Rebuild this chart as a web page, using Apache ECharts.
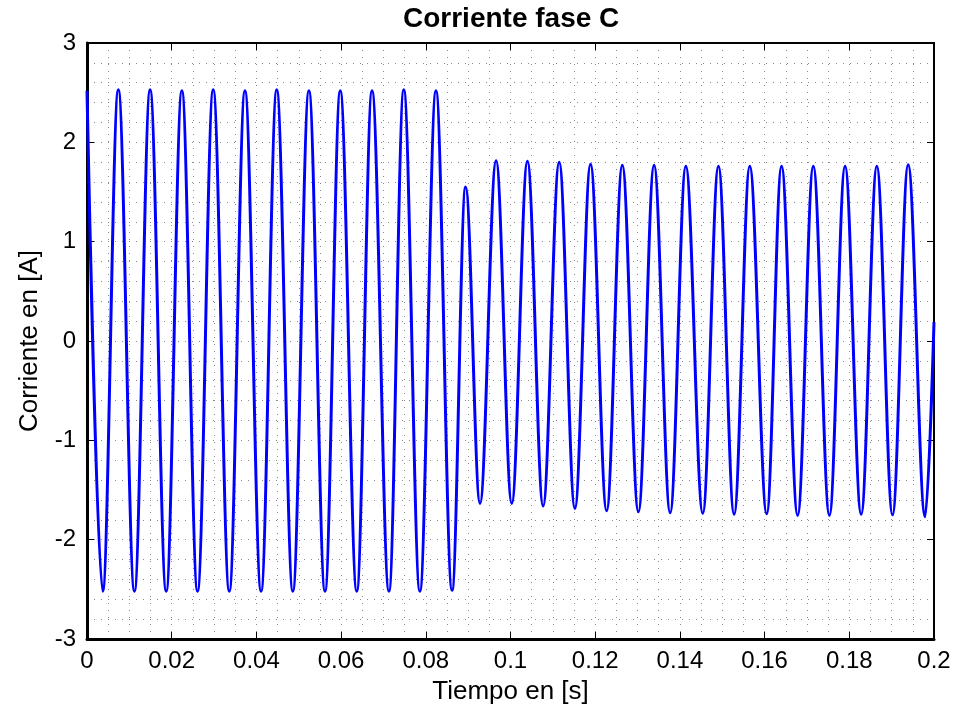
<!DOCTYPE html>
<html>
<head>
<meta charset="utf-8">
<script src="https://cdn.jsdelivr.net/npm/echarts@6/dist/echarts.min.js"></script>
<style>html,body{margin:0;padding:0;background:#fff}#c{width:958px;height:714px}</style>
</head>
<body>
<div id="c"></div>
<script>
// Peaks and troughs of the current waveform (time in s, current in A)
const extremaTime = [
  0.0000, 0.0037, 0.0074, 0.0112, 0.0149, 0.0187, 0.0224, 0.0261, 0.0298, 0.0336,
  0.0373, 0.0411, 0.0448, 0.0486, 0.0524, 0.0562, 0.0598, 0.0637, 0.0673, 0.0713,
  0.0748, 0.0786, 0.0824, 0.0862, 0.0894, 0.0928, 0.0966, 0.1003, 0.1040, 0.1077,
  0.1115, 0.1152, 0.1189, 0.1227, 0.1264, 0.1302, 0.1339, 0.1377, 0.1414, 0.1454,
  0.1491, 0.1528, 0.1565, 0.1605, 0.1640, 0.1678, 0.1715, 0.1753, 0.1790, 0.1828,
  0.1865, 0.1902, 0.1939, 0.1979, 0.2000
];
const extremaValue = [
  2.52, -2.52, 2.53, -2.52, 2.53, -2.52, 2.52, -2.52, 2.53, -2.52,
  2.52, -2.52, 2.53, -2.52, 2.52, -2.52, 2.52, -2.52, 2.52, -2.52,
  2.53, -2.52, 2.52, -2.51, 1.55, -1.635, 1.815, -1.635, 1.81, -1.66,
  1.80, -1.685, 1.78, -1.71, 1.77, -1.72, 1.77, -1.73, 1.76, -1.735,
  1.76, -1.745, 1.76, -1.74, 1.76, -1.755, 1.76, -1.755, 1.76, -1.745,
  1.76, -1.75, 1.775, -1.77, 0.19
];
const titleText = 'Corriente fase C';
const xName = 'Tiempo en [s]';
const yName = 'Corriente en [A]';
const xMin = 0, xMax = 0.2, xStep = 0.02;
const yMin = -3, yMax = 3, yStep = 1;

const seriesData = extremaTime.map((t, i) => [t, extremaValue[i]]);
const FONT = '"Liberation Sans", Arial, Helvetica, sans-serif';
const dotted = { color: '#8a8a8a', width: 1, type: [1, 6] };

const chart = echarts.init(document.getElementById('c'), null, { renderer: 'canvas' });
chart.setOption({
  backgroundColor: '#ffffff',
  animation: false,
  title: {
    text: titleText, left: 403, top: 5, padding: 0,
    textStyle: { fontFamily: FONT, fontWeight: 'bold', fontSize: 28, color: '#000' }
  },
  grid: { left: 87, right: 24, top: 43, bottom: 75, show: true, borderColor: '#000', borderWidth: 2, backgroundColor: '#fff' },
  xAxis: [{
    type: 'value', min: xMin, max: xMax, interval: xStep,
    name: xName, nameLocation: 'middle', nameGap: 40,
    nameTextStyle: { fontFamily: FONT, fontSize: 26, color: '#000' },
    axisLine: { show: true, onZero: false, lineStyle: { color: '#000', width: 3 } },
    axisTick: { show: true, inside: true, length: 7, lineStyle: { color: '#000', width: 1 } },
    axisLabel: { fontFamily: FONT, fontSize: 24, color: '#000', margin: 10 },
    splitLine: { show: true, lineStyle: dotted },
    minorTick: { show: false, splitNumber: 4 },
    minorSplitLine: { show: true, lineStyle: dotted }
  }, {
    type: 'value', min: xMin, max: xMax, interval: xStep, position: 'top',
    axisLine: { show: true, onZero: false, lineStyle: { color: '#000', width: 2 } },
    axisTick: { show: true, inside: true, length: 7, lineStyle: { color: '#000', width: 1 } },
    axisLabel: { show: false }, splitLine: { show: false }
  }],
  yAxis: [{
    type: 'value', min: yMin, max: yMax, interval: yStep,
    name: yName, nameLocation: 'middle', nameGap: 44, nameRotate: 90,
    nameTextStyle: { fontFamily: FONT, fontSize: 26, color: '#000' },
    axisLine: { show: true, onZero: false, lineStyle: { color: '#000', width: 3 } },
    axisTick: { show: true, inside: true, length: 7, lineStyle: { color: '#000', width: 1 } },
    axisLabel: { fontFamily: FONT, fontSize: 24, color: '#000', margin: 11 },
    splitLine: { show: true, lineStyle: dotted },
    minorTick: { show: false, splitNumber: 5 },
    minorSplitLine: { show: true, lineStyle: dotted }
  }, {
    type: 'value', min: yMin, max: yMax, interval: yStep, position: 'right',
    axisLine: { show: true, onZero: false, lineStyle: { color: '#000', width: 2 } },
    axisTick: { show: true, inside: true, length: 7, lineStyle: { color: '#000', width: 1 } },
    axisLabel: { show: false }, splitLine: { show: false }
  }],
  series: [{
    type: 'line', xAxisIndex: 0, yAxisIndex: 0,
    data: seriesData, showSymbol: false, symbol: 'none',
    smooth: 0.36, smoothMonotone: 'x',
    lineStyle: { color: '#0000ff', width: 3 },
    clip: true
  }]
});
</script>
</body>
</html>
